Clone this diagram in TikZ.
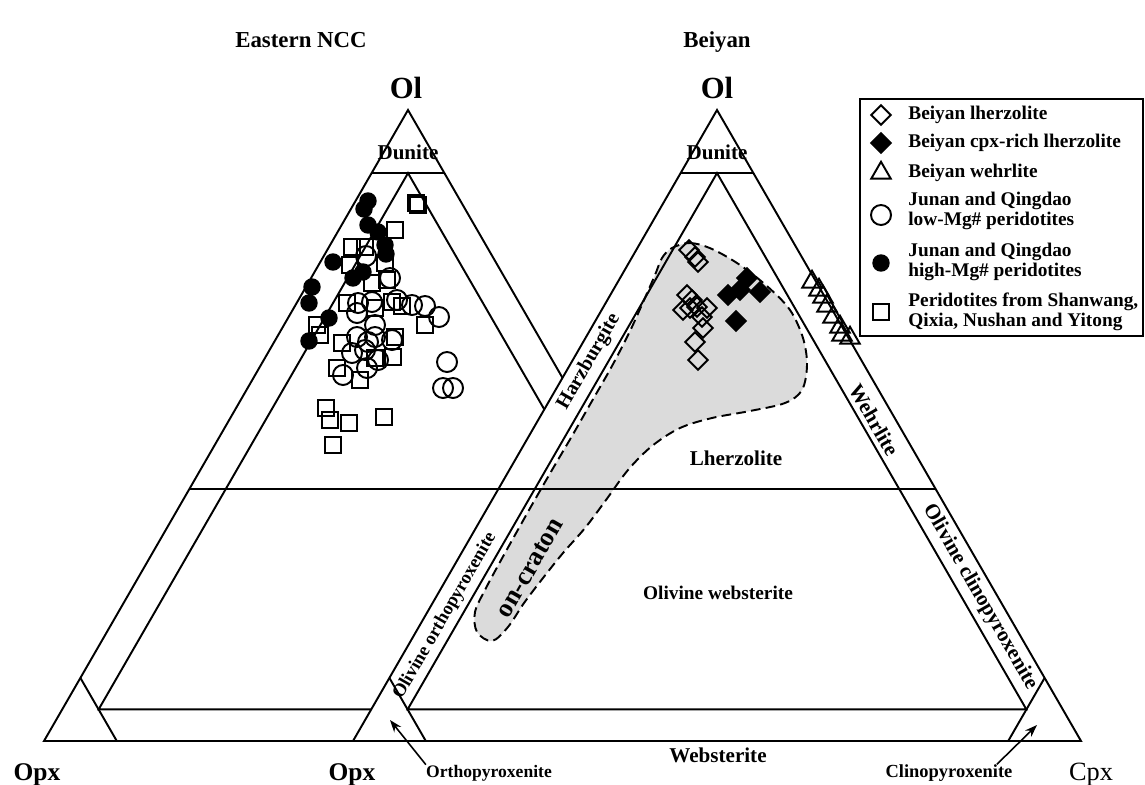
\documentclass[tikz,border=0pt]{standalone}
\usepackage{fontspec}
\setmainfont{Liberation Serif}
\usepackage{tikz}
\usetikzlibrary{calc,arrows.meta,plotmarks}

\newcommand{\ternarylines}[1]{%
\draw[edge] (#1o) -- (#1c) -- (#1t) -- cycle;
\draw[edge] (barycentric cs:#1t=0.9,#1o=0.1) -- (barycentric cs:#1t=0.9,#1c=0.1);
\draw[edge] (barycentric cs:#1t=0.4,#1o=0.6) -- (barycentric cs:#1t=0.4,#1c=0.6);
\draw[edge] (barycentric cs:#1t=0.9,#1o=0.05,#1c=0.05) -- (barycentric cs:#1t=0.05,#1o=0.9,#1c=0.05) -- (barycentric cs:#1t=0.05,#1o=0.05,#1c=0.9) -- cycle;
\draw[edge] (barycentric cs:#1t=0.1,#1o=0.9) -- (barycentric cs:#1c=0.1,#1o=0.9);
\draw[edge] (barycentric cs:#1t=0.1,#1c=0.9) -- (barycentric cs:#1o=0.1,#1c=0.9);
}

\begin{document}
\begin{tikzpicture}[x=0.02cm,y=-0.02cm,
  edge/.style={line width=1.1pt},
  lbl/.style={font=\fontsize{12}{14}\selectfont\bfseries, inner sep=0pt},
  apex/.style={font=\fontsize{17.5}{20}\selectfont\bfseries, inner sep=0pt, anchor=base},
  corner/.style={font=\fontsize{14.5}{17}\selectfont\bfseries, inner sep=0pt, anchor=base},
  ttl/.style={font=\fontsize{13}{15}\selectfont\bfseries, inner sep=0pt, anchor=base},
  key/.style={font=\fontsize{11}{11.5}\selectfont\bfseries, inner sep=0pt, anchor=west, align=left},
  pointer/.style={line width=0.9pt, -{Stealth[length=7pt,width=5pt]}},
  craton/.style={fill=black!14, dash pattern=on 5.5pt off 3pt, line width=1.1pt},
  mk/.style={only marks, line width=1.1pt},
  lowmg/.style={mk, mark=o, mark size=5.7pt},
  highmg/.style={mk, mark=*, mark size=4.4pt},
  others/.style={mk, mark=square, mark size=4.7pt},
  lherz/.style={mk, mark=square, mark size=3.9pt, mark options={rotate=45}},
  cpxlherz/.style={mk, mark=square*, mark size=3.9pt, mark options={rotate=45}},
  wehrl/.style={mk, mark=triangle, mark size=6.4pt}
]
\useasboundingbox (0,0) rectangle (1145,784);

\coordinate (lo) at (44,741);
\coordinate (lc) at (772,741);
\coordinate (lt) at (408,110);
\coordinate (ro) at (353,741);
\coordinate (rc) at (1081,741);
\coordinate (rt) at (717,110);

\ternarylines{l}

\draw[others] plot coordinates {(416,203) (418,205) (395,230) (352,247) (365,247) (350,265) (385,263) (372,283) (387,280) (347,303) (375,308) (392,302) (402,306) (425,325) (317,325) (320,335) (342,343) (395,337) (393,357) (375,358) (337,368) (360,380) (326,408) (330,420) (349,423) (384,417) (333,445)};
\draw[lowmg] plot coordinates {(390,278) (366,256) (358,303) (372,302) (397,300) (412,305) (425,306) (439,317) (357,313) (375,325) (375,337) (357,337) (368,342) (392,340) (352,353) (365,350) (378,360) (367,368) (343,375) (447,362) (443,388) (453,388)};
\draw[highmg] plot coordinates {(368,201) (364,209) (368,225) (378,232) (385,245) (386,254) (333,262) (363,272) (353,278) (312,287) (309,303) (329,318) (309,341)};

\fill[white] (ro) -- (rc) -- (rt) -- cycle;
\draw[craton] plot[smooth cycle, tension=0.55] coordinates {(672,248) (690,243) (712,249) (740,265) (768,287) (790,310) (803,338) (807,365) (802,390) (785,403) (750,411) (712,418) (680,428) (652,446) (628,470) (606,500) (585,528) (563,553) (543,578) (524,603) (508,627) (492,641) (477,632) (475,612) (486,588) (500,562) (515,535) (533,503) (552,470) (572,436) (592,401) (612,366) (630,331) (644,300) (655,275) (662,258)};

\ternarylines{r}

\draw[lherz] plot coordinates {(689,250) (695,257) (698,262) (687,295) (692,300) (683,310) (690,308) (697,307) (707,308) (702,317) (703,328) (695,342) (698,360)};
\draw[cpxlherz] plot coordinates {(747,278) (740,290) (728,295) (760,292) (736,321)};
\draw[wehrl] plot coordinates {(812,282) (819,290) (823,297) (827,306) (833,317) (840,327) (842,335) (850,338)};

\draw[edge, fill=white] (860,99) rectangle (1143,336);
\draw[lherz] plot coordinates {(881,115)};
\draw[cpxlherz] plot coordinates {(881,143)};
\draw[wehrl] plot coordinates {(881,173)};
\draw[lowmg] plot coordinates {(881,215)};
\draw[highmg] plot coordinates {(881,263)};
\draw[others] plot coordinates {(881,312)};
\node[key] (lg1) at (908,115) {Beiyan lherzolite};
\node[key] (lg2) at (908,143) {Beiyan cpx-rich lherzolite};
\node[key] (lg3) at (908,173) {Beiyan wehrlite};
\node[key] (lg4) at (908,211) {Junan and Qingdao\\low-Mg\# peridotites};
\node[key] (lg5) at (908,262) {Junan and Qingdao\\high-Mg\# peridotites};
\node[key] (lg6) at (908,312) {Peridotites from Shanwang,\\Qixia, Nushan and Yitong};

\node[ttl] (eastncc) at (301,48) {Eastern NCC};
\node[ttl] (beiyan) at (717,48) {Beiyan};
\node[apex] (oll) at (406,98) {Ol};
\node[apex] (olr) at (717,98) {Ol};
\node[corner] (opxl) at (37,780) {Opx};
\node[corner] (opxr) at (352,780) {Opx};
\node[corner, font=\fontsize{15}{17}\selectfont] (cpx) at (1091,780) {Cpx};

\node[lbl] (dunl) at (408,152) {Dunite};
\node[lbl] (dunr) at (717,152) {Dunite};
\node[lbl, rotate=60, font=\fontsize{11.5}{14}\selectfont\bfseries] (harz) at (589,362) {Harzburgite};
\node[lbl, rotate=-60] (wehr) at (874,420) {Wehrlite};
\node[lbl] (lherzl) at (736,458) {Lherzolite};
\node[lbl, font=\fontsize{11}{13}\selectfont\bfseries] (olweb) at (718,593) {Olivine websterite};
\node[lbl, rotate=60, font=\fontsize{10.5}{12}\selectfont\bfseries] (olopx) at (445,616) {Olivine orthopyroxenite};
\node[lbl, rotate=-60] (olcpx) at (980,597) {Olivine clinopyroxenite};
\node[lbl] (web) at (718,755) {Websterite};
\node[lbl, rotate=60, font=\fontsize{15}{17}\selectfont\bfseries] (craton) at (530,568) {on-craton};

\node[lbl, font=\fontsize{10}{12}\selectfont\bfseries] (opxite) at (489,773) {Orthopyroxenite};
\node[lbl, font=\fontsize{10.5}{12}\selectfont\bfseries] (cpxite) at (949,773) {Clinopyroxenite};
\coordinate (opxtip) at (390,720);
\coordinate (cpxtip) at (1037,725);
\draw[pointer] (opxite.north west) -- (opxtip);
\draw[pointer] ([xshift=-9pt]cpxite.north east) -- (cpxtip);
\end{tikzpicture}
\end{document}
